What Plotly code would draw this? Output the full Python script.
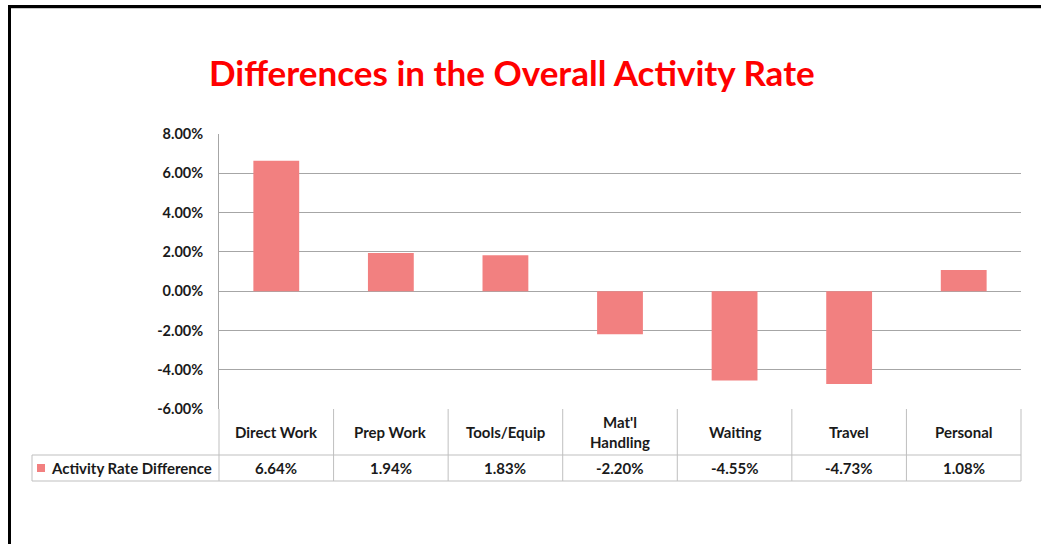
import plotly.graph_objects as go

categories = ["Direct Work", "Prep Work", "Tools/Equip", "Mat'l Handling", "Waiting", "Travel", "Personal"]
header_labels = ["Direct Work", "Prep Work", "Tools/Equip", "Mat'l<br>Handling", "Waiting", "Travel", "Personal"]
values = [0.0664, 0.0194, 0.0183, -0.0220, -0.0455, -0.0473, 0.0108]
value_labels = ["6.64%", "1.94%", "1.83%", "-2.20%", "-4.55%", "-4.73%", "1.08%"]
tick_values = [-0.06, -0.04, -0.02, 0.0, 0.02, 0.04, 0.06, 0.08]
tick_labels = ["-6.00%", "-4.00%", "-2.00%", "0.00%", "2.00%", "4.00%", "6.00%", "8.00%"]
series_name = "Activity Rate Difference"
title_text = "Differences in the Overall Activity Rate"

W, H = 1041, 544
L, R, T, B = 219, 1021, 134, 409
BAR = "#F28080"
GRID = "#A6A6A6"
TBL = "#BFBFBF"
FONT = "Lato"
TXT = "#1a1a1a"

def px(x):
    return (x - L) / (R - L)

def py(y):
    return (B - y) / (B - T)

fig = go.Figure()
fig.add_trace(go.Bar(x=categories, y=values, marker=dict(color=BAR, line=dict(width=0)),
                     name=series_name, showlegend=False, hoverinfo="skip"))

n = len(categories)
shapes = []
for i in range(n + 1):
    shapes.append(dict(type="line", xref="x domain", yref="paper", x0=i / n, x1=i / n,
                       y0=py(409), y1=py(481), line=dict(color=TBL, width=1)))
for yy in (455, 481):
    shapes.append(dict(type="line", xref="paper", yref="paper", x0=px(32), x1=1,
                       y0=py(yy), y1=py(yy), line=dict(color=TBL, width=1)))
shapes.append(dict(type="line", xref="paper", yref="paper", x0=px(32), x1=px(32),
                   y0=py(455), y1=py(481), line=dict(color=TBL, width=1)))
shapes.append(dict(type="rect", xref="paper", yref="paper", x0=px(37), x1=px(45),
                   y0=py(472), y1=py(464), fillcolor=BAR, line=dict(width=0)))
shapes.append(dict(type="line", xref="paper", yref="paper", x0=px(9), x1=px(1045),
                   y0=py(8), y1=py(8), line=dict(color="#C8C8C8", width=2)))
shapes.append(dict(type="line", xref="paper", yref="paper", x0=px(9), x1=px(1045),
                   y0=py(6.5), y1=py(6.5), line=dict(color="black", width=3)))
shapes.append(dict(type="line", xref="paper", yref="paper", x0=px(9.5), x1=px(9.5),
                   y0=py(5), y1=py(550), line=dict(color="black", width=3)))

tf = dict(family=FONT, size=15, color=TXT, weight="bold")
annotations = []
for cat, hl, vl in zip(categories, header_labels, value_labels):
    annotations.append(dict(x=cat, xref="x", y=py(432), yref="paper", text=hl, showarrow=False,
                            font=tf, xanchor="center", yanchor="middle"))
    annotations.append(dict(x=cat, xref="x", y=py(468), yref="paper", text=vl, showarrow=False,
                            font=tf, xanchor="center", yanchor="middle"))
annotations.append(dict(x=px(49), xref="paper", y=py(468), yref="paper", text=series_name,
                        showarrow=False, font=tf, xanchor="left", yanchor="middle"))
annotations.append(dict(x=px(512), xref="paper", y=py(72), yref="paper", text=title_text,
                        showarrow=False, font=dict(family=FONT, size=35, color="#FF0000", weight="bold"),
                        xanchor="center", yanchor="middle"))

fig.update_layout(
    width=W, height=H,
    margin=dict(l=L, r=W - R, t=T, b=H - B, pad=0),
    paper_bgcolor="white", plot_bgcolor="white",
    bargap=0.6,
    shapes=shapes, annotations=annotations,
    showlegend=False,
    xaxis=dict(range=[-0.5, n - 0.5], showticklabels=False, showgrid=False, zeroline=False,
               showline=False, ticks=""),
    yaxis=dict(range=[-0.06, 0.08], tickmode="array", tickvals=tick_values, ticktext=tick_labels,
               showgrid=True, gridcolor=GRID, gridwidth=1, zeroline=True, zerolinecolor=GRID,
               zerolinewidth=1, showline=True, linecolor=GRID, linewidth=1, ticks="",
               ticklabelstandoff=12,
               tickfont=dict(family=FONT, size=14.5, color=TXT, weight="bold")),
)

fig.write_html("out.html", config={"displayModeBar": False},
               post_script="document.body.style.margin='0px';")
